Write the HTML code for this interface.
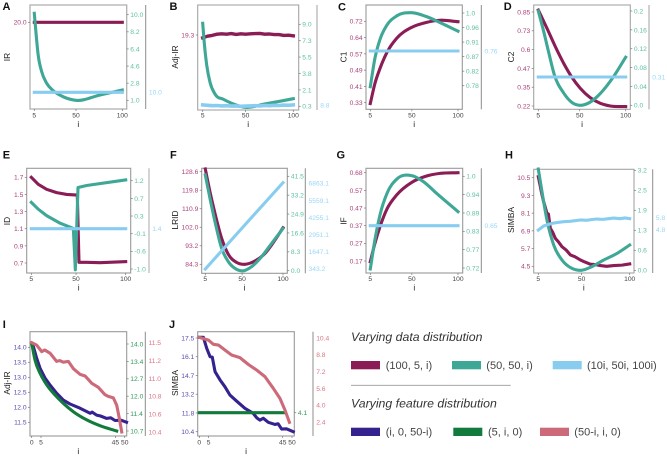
<!DOCTYPE html>
<html lang="en">
<head>
<meta charset="utf-8">
<title>Metric panels by i</title>
<style>
html,body{margin:0;padding:0;background:#fff;}
svg{display:block;font-family:"Liberation Sans",sans-serif;}
</style>
</head>
<body>
<svg id="chart" width="667" height="457" viewBox="0 0 667 457" xmlns="http://www.w3.org/2000/svg">
  <g>
    <text x="351" y="341" font-size="12.3" font-style="italic" fill="#333">Varying data distribution</text>
    <rect x="351" y="361" width="29" height="8.3" fill="#8a1c56"/>
    <text x="385.7" y="369" font-size="11" fill="#444">(100, 5, i)</text>
    <rect x="452" y="361" width="29" height="8.3" fill="#3fa796"/>
    <text x="486.3" y="369" font-size="11" fill="#444">(50, 50, i)</text>
    <rect x="552.7" y="361" width="29" height="8.3" fill="#88cdf0"/>
    <text x="587" y="369" font-size="11" fill="#444">(10i, 50i, 100i)</text>
    <line x1="351" y1="385.3" x2="510.7" y2="385.3" stroke="#999" stroke-width="0.8"/>
    <text x="351" y="407.7" font-size="12.3" font-style="italic" fill="#333">Varying feature distribution</text>
    <rect x="351" y="427.7" width="29" height="8.3" fill="#35228f"/>
    <text x="385.7" y="435.5" font-size="11" fill="#444">(i, 0, 50-i)</text>
    <rect x="453.3" y="427.7" width="29" height="8.3" fill="#127a3b"/>
    <text x="488" y="435.5" font-size="11" fill="#444">(5, i, 0)</text>
    <rect x="540" y="427.7" width="29" height="8.3" fill="#cd6a7a"/>
    <text x="574.3" y="435.5" font-size="11" fill="#444">(50-i, i, 0)</text>
  </g>
</svg>
<script>
// ---------- tick labels ----------
const xTicksWide = [5, 50, 100];
const xTicksNarrow = [0, 5, 45, 50];
const aLeftTicks = ['20.0'];
const aRightTicks = ['10.0', '8.2', '6.4', '4.6', '2.8', '1.0'];
const aThirdTicks = ['10.0'];
const bLeftTicks = ['19.3'];
const bRightTicks = ['9.0', '7.3', '5.5', '3.8', '2.1', '0.3'];
const bThirdTicks = ['8.8'];
const cLeftTicks = ['0.72', '0.64', '0.57', '0.49', '0.41', '0.33'];
const cRightTicks = ['1.0', '0.96', '0.91', '0.87', '0.82', '0.78'];
const cThirdTicks = ['0.76'];
const dLeftTicks = ['0.85', '0.73', '0.6', '0.47', '0.35', '0.22'];
const dRightTicks = ['0.2', '0.16', '0.12', '0.08', '0.04', '0.0'];
const dThirdTicks = ['0.31'];
const eLeftTicks = ['1.7', '1.5', '1.3', '1.1', '0.9', '0.7'];
const eRightTicks = ['1.2', '0.7', '0.3', '-0.1', '-0.6', '-1.0'];
const eThirdTicks = ['1.4'];
const fLeftTicks = ['128.6', '119.8', '110.9', '102.0', '93.2', '84.3'];
const fRightTicks = ['41.5', '33.2', '24.9', '16.6', '8.3', '0.0'];
const fThirdTicks = ['6863.1', '5559.1', '4255.1', '2951.1', '1647.1', '343.2'];
const gLeftTicks = ['0.68', '0.57', '0.47', '0.37', '0.27', '0.17'];
const gRightTicks = ['1.0', '0.94', '0.89', '0.83', '0.77', '0.72'];
const gThirdTicks = ['0.65'];
const hLeftTicks = ['10.5', '9.3', '8.1', '6.9', '5.7', '4.5'];
const hRightTicks = ['3.2', '2.5', '1.9', '1.3', '0.6', '0.0'];
const hThirdTicks = ['5.8', '4.8'];
const iLeftTicks = ['14.0', '13.5', '13.0', '12.5', '12.0', '11.5'];
const iRightTicks = ['14.0', '13.4', '12.7', '12.0', '11.4', '10.7'];
const iThirdTicks = ['11.5', '11.2', '11.0', '10.8', '10.6', '10.4'];
const jLeftTicks = ['17.5', '16.1', '14.7', '13.2', '11.8', '10.4'];
const jRightTicks = ['4.1'];
const jThirdTicks = ['10.4', '8.8', '7.2', '5.6', '4.0', '2.4'];

// ---------- series values ----------
const flatI = [5, 100];
const aMaroonV = [20, 20];
const aTealI = [5, 7, 9, 13, 18, 25, 36, 50, 76, 100];
const aTealV = [10.15, 7.9, 5.9, 4.0, 2.85, 2.05, 1.38, 1.0, 1.56, 2.08];
const aSkyV = [10, 10];

const bEvery5I = [5, 10, 15, 20, 25, 30, 35, 40, 45, 50, 55, 60, 65, 70, 75, 80, 85, 90, 95, 100];
const bMaroonV = [19.23, 19.27, 19.29, 19.32, 19.33, 19.32, 19.335, 19.315, 19.33, 19.32, 19.33, 19.335, 19.34, 19.32, 19.325, 19.31, 19.31, 19.29, 19.295, 19.28];
const bTealI = [5, 6.7, 9.2, 12.7, 17.9, 26.7, 35.4, 49.7, 70.3, 87.8, 100];
const bTealV = [9.11, 6.98, 4.68, 2.84, 1.6, 1.04, 0.62, 0.19, 0.55, 0.87, 1.11];
const bSkyV = [8.81, 8.8, 8.79, 8.795, 8.785, 8.79, 8.78, 8.785, 8.775, 8.78, 8.785, 8.79, 8.785, 8.795, 8.79, 8.8, 8.795, 8.805, 8.8, 8.81];

const cMaroonI = [5, 10, 15.5, 23.4, 33.5, 49.8, 66, 80.5, 100];
const cMaroonV = [0.326, 0.422, 0.494, 0.574, 0.638, 0.691, 0.715, 0.725, 0.718];
const cTealI = [5, 10, 15.5, 22.7, 33.5, 49.8, 66, 80.5, 100];
const cTealV = [0.777, 0.863, 0.92, 0.962, 0.991, 1.001, 0.989, 0.971, 0.945];
const cSkyV = [0.76, 0.76];

const dMaroonI = [5, 14.4, 23.5, 32.6, 41.6, 50.7, 61.6, 72.4, 83.3, 100];
const dMaroonV = [0.863, 0.741, 0.618, 0.506, 0.412, 0.338, 0.275, 0.238, 0.22, 0.216];
const dTealI = [5, 10.8, 16.2, 22.4, 32.6, 41.6, 50, 59.8, 68.8, 85.1, 100];
const dTealV = [0.2, 0.157, 0.113, 0.065, 0.026, 0.006, 0, 0.005, 0.018, 0.056, 0.102];
const dSkyV = [0.31, 0.31];

const eMaroonI = [5, 12, 20.4, 30.5, 40.6, 49, 51.3, 53, 60.7, 74, 100];
const eMaroonV = [1.7, 1.618, 1.56, 1.521, 1.5, 1.494, 1.494, 0.708, 0.708, 0.704, 0.716];
const eTealI = [5, 12, 20.4, 34, 47.3, 49.3, 52, 60.7, 100];
const eTealV = [0.66, 0.49, 0.33, 0.14, 0.01, -1.02, 1.03, 1.08, 1.22];
const eSkyV = [1.4, 1.4];

const fMaroonI = [5, 10.7, 16.8, 25, 33.1, 43.3, 53.5, 65.7, 78, 90.2, 100];
const fMaroonV = [129.9, 119, 108.7, 96.7, 89.1, 85.2, 84.3, 85.9, 89.5, 95.9, 101.8];
const fTealI = [5, 10.7, 16.8, 25, 33.1, 43.3, 50.3, 61.7, 73.9, 86.1, 100];
const fTealV = [42.1, 31.8, 21.6, 9.8, 4, 0.6, -0.1, 1.8, 6.2, 12, 18.6];
const fSkyI = [5, 50, 100];
const fSkyV = [318, 3450, 6914];

const gMaroonI = [5, 10, 15.5, 23.4, 33.5, 49.8, 66, 80.5, 100];
const gMaroonV = [0.166, 0.272, 0.368, 0.474, 0.551, 0.624, 0.661, 0.676, 0.68];
const gTealI = [5, 10, 15.5, 23.4, 33.5, 49.8, 62.4, 76.8, 100];
const gTealV = [0.717, 0.806, 0.882, 0.95, 0.991, 1.002, 0.984, 0.948, 0.892];
const gSkyV = [0.65, 0.65];

const hMaroonI = [5, 6.5, 7.8, 9, 10.5, 12, 14, 15.5, 17.5, 20, 22.7, 26, 29.6, 34, 38.3, 43, 48.7, 53, 59, 64, 69.5, 76, 83.4, 92, 100];
const hMaroonV = [10.57, 10.1, 9.67, 9.3, 8.88, 8.55, 8.09, 8.05, 7.07, 6.8, 6.39, 6.15, 5.83, 5.6, 5.27, 5.15, 4.93, 4.8, 4.64, 4.62, 4.55, 4.5, 4.55, 4.58, 4.66];
const hTealI = [5, 8.8, 14, 21, 29.6, 40, 49.7, 60.8, 73, 86.8, 100];
const hTealV = [3.24, 2.52, 1.61, 0.81, 0.33, 0.06, 0, 0.12, 0.33, 0.54, 0.81];
const hSkyI = [5, 10.5, 19.2, 25, 31.3, 38, 48.7, 55, 60, 66, 72, 78, 83.4, 90, 95, 100];
const hSkyV = [4.77, 5.11, 5.33, 5.4, 5.47, 5.5, 5.61, 5.58, 5.64, 5.69, 5.66, 5.72, 5.77, 5.72, 5.78, 5.72];

const iNavyI = [0, 0.9, 2.7, 4.5, 7.2, 9.9, 13.4, 17, 20.6, 26, 31.4, 32.5, 34.9, 37, 40.3, 42.5, 44.8, 48, 51];
const iNavyV = [14.13, 14.02, 13.63, 13.3, 12.97, 12.74, 12.47, 12.24, 12.11, 11.97, 11.8, 11.84, 11.74, 11.71, 11.63, 11.65, 11.56, 11.57, 11.5];
const iGreenI = [0, 1.8, 4.5, 8.1, 12.5, 17, 22.4, 29.6, 36.7, 45.7];
const iGreenV = [14.03, 13.39, 12.89, 12.45, 12.07, 11.75, 11.43, 11.12, 10.9, 10.7];
const iRoseI = [0, 2.7, 5.4, 7, 9.9, 13.4, 15, 17, 19.7, 22.4, 26, 28.7, 32.3, 35.8, 39.4, 41, 43.9, 45.7, 47.1, 48.4];
const iRoseV = [11.5, 11.47, 11.39, 11.41, 11.37, 11.27, 11.28, 11.26, 11.27, 11.18, 11.11, 11.09, 11, 10.95, 10.86, 10.84, 10.82, 10.73, 10.57, 10.4];

const jNavyI = [0, 2.2, 4, 5.8, 7, 8.5, 11.2, 13.8, 16.5, 20.1, 24.6, 29.1, 31, 32.7, 34.5, 37.2, 40.8, 42.5, 44.4, 47, 50.7];
const jNavyV = [17.55, 17.55, 16.72, 16.08, 16.05, 14.95, 14.32, 13.81, 13.18, 12.72, 12.17, 11.79, 11.45, 11.28, 11.42, 11.11, 10.95, 11, 10.6, 10.62, 10.4];
const jGreenI = [0, 46];
const jGreenV = [4.1, 4.1];
const jRoseI = [0, 4.9, 7.6, 10.3, 13.8, 17.4, 21.9, 26.4, 30.9, 35.4, 39.9, 43.5, 46.2, 48.6];
const jRoseV = [10.46, 10.2, 9.8, 9.73, 9.26, 8.78, 8.53, 7.89, 7.35, 6.72, 5.61, 4.65, 3.54, 2.37];

// ---------- palette ----------
const MAROON = '#8a1c56', TEAL = '#3fa796', SKY = '#88cdf0', NAVY = '#35228f', GREEN = '#127a3b', ROSE = '#cd6a7a';
const MAROON_T = '#ab4279', TEAL_T = '#5dbfa5', SKY_T = '#9ad6f5', NAVY_T = '#5a4cad', GREEN_T = '#2f9a58', ROSE_T = '#da7484';

// ---------- panel layout ----------
const panels = [
  { key:'a', letter:'A', lx:2.5, ly:10, title:'IR', tx:10, ty:57, frame:[30,5,126.7,109], frameColor:'#b0b0b0', frameW:1.3,
    xt:xTicksWide, xa:[34.3,122.3], xl:117.5, xt2:127,
    left:{labels:aLeftTicks, y0:22.3, y1:22.3, unit:10, color:MAROON_T},
    right:{labels:aRightTicks, y0:14.7, y1:100.3, color:TEAL_T},
    third:{labels:aThirdTicks, x:145.7, y0:92.3, y1:92.3, unit:10, color:SKY_T},
    series:[{n:'maroon',xs:flatI,ys:aMaroonV,ax:'left',c:MAROON,s:1},{n:'teal',xs:aTealI,ys:aTealV,ax:'right',c:TEAL,s:1},{n:'sky',xs:flatI,ys:aSkyV,ax:'third',c:SKY,s:1}] },
  { key:'b', letter:'B', lx:169.5, ly:10, title:'Adj-IR', tx:178, ty:57, frame:[197.7,5,298.7,110], frameColor:'#a5a5a5', frameW:1.1,
    xt:xTicksWide, xa:[202.7,293.3], xl:117.5, xt2:127,
    left:{labels:bLeftTicks, y0:35, y1:35, unit:40, color:MAROON_T},
    right:{labels:bRightTicks, y0:24.3, y1:106.3, color:TEAL_T},
    third:{labels:bThirdTicks, x:317, y0:105.3, y1:105.3, unit:40, color:SKY_T, axisColor:'#c4c4c4', axisW:1.6},
    series:[{n:'maroon',xs:bEvery5I,ys:bMaroonV,ax:'left',c:MAROON,w:3.4},{n:'teal',xs:bTealI,ys:bTealV,ax:'right',c:TEAL,s:1},{n:'sky',xs:bEvery5I,ys:bSkyV,ax:'third',c:SKY,w:3.6}] },
  { key:'c', letter:'C', lx:338, ly:10.5, title:'C1', tx:346.5, ty:57, frame:[366,5,462.3,109.3], frameColor:'#999', frameW:1.1,
    xt:xTicksWide, xa:[370.3,458], xl:117.5, xt2:127,
    left:{labels:cLeftTicks, y0:21.3, y1:102.7, color:MAROON_T},
    right:{labels:cRightTicks, y0:13, y1:85.7, color:TEAL_T},
    third:{labels:cThirdTicks, x:481.3, y0:51, y1:51, unit:100, color:SKY_T},
    series:[{n:'maroon',xs:cMaroonI,ys:cMaroonV,ax:'left',c:MAROON,s:1},{n:'teal',xs:cTealI,ys:cTealV,ax:'right',c:TEAL,s:1},{n:'sky',xs:flatI,ys:cSkyV,ax:'third',c:SKY,s:1}] },
  { key:'d', letter:'D', lx:503.7, ly:10, title:'C2', tx:514, ty:57, frame:[533.7,5,630.3,109.3], frameColor:'#a5a5a5', frameW:1.1,
    xt:xTicksWide, xa:[538.3,625.7], xl:117.5, xt2:127,
    left:{labels:dLeftTicks, y0:12, y1:106, color:MAROON_T},
    right:{labels:dRightTicks, y0:11, y1:105.3, color:TEAL_T},
    third:{labels:dThirdTicks, x:649, y0:77, y1:77, unit:100, color:SKY_T, axisColor:'#c4c4c4', axisW:1.6},
    series:[{n:'maroon',xs:dMaroonI,ys:dMaroonV,ax:'left',c:MAROON,s:1},{n:'teal',xs:dTealI,ys:dTealV,ax:'right',c:TEAL,s:1},{n:'sky',xs:flatI,ys:dSkyV,ax:'third',c:SKY,s:1}] },
  { key:'e', letter:'E', lx:2.7, ly:158.3, title:'ID', tx:10, ty:221, frame:[26.7,168.3,130.7,273], frameColor:'#999', frameW:1.1,
    xt:xTicksWide, xa:[31.3,125.7], xl:281, xt2:290.5,
    left:{labels:eLeftTicks, y0:177.3, y1:263, color:MAROON_T},
    right:{labels:eRightTicks, y0:180.7, y1:269, color:TEAL_T},
    third:{labels:eThirdTicks, x:149, y0:228.7, y1:228.7, unit:30, color:SKY_T, axisColor:'#a8a8a8'},
    series:[{n:'maroon',xs:eMaroonI,ys:eMaroonV,ax:'left',c:MAROON},{n:'teal',xs:eTealI,ys:eTealV,ax:'right',c:TEAL},{n:'sky',xs:flatI,ys:eSkyV,ax:'third',c:SKY,s:1}] },
  { key:'f', letter:'F', lx:170, ly:158.3, title:'LRID', tx:178, ty:220, frame:[201.7,168.3,287.3,273.3], frameColor:'#999', frameW:1.1,
    xt:xTicksWide, xa:[205.3,283], xl:281, xt2:290.5,
    left:{labels:fLeftTicks, y0:171.7, y1:264.3, color:MAROON_T},
    right:{labels:fRightTicks, y0:176.3, y1:270.7, color:TEAL_T},
    third:{labels:fThirdTicks, x:305.3, y0:183.3, y1:268.7, color:SKY_T},
    series:[{n:'maroon',xs:fMaroonI,ys:fMaroonV,ax:'left',c:MAROON,s:1},{n:'teal',xs:fTealI,ys:fTealV,ax:'right',c:TEAL,s:1},{n:'sky',xs:fSkyI,ys:fSkyV,ax:'third',c:SKY}] },
  { key:'g', letter:'G', lx:336.5, ly:158.5, title:'IF', tx:346.5, ty:221, frame:[366,168.3,462.7,273], frameColor:'#999', frameW:1.1,
    xt:xTicksWide, xa:[370.3,458], xl:281, xt2:290.5,
    left:{labels:gLeftTicks, y0:172.7, y1:261, color:MAROON_T},
    right:{labels:gRightTicks, y0:176.3, y1:268, color:TEAL_T},
    third:{labels:gThirdTicks, x:481.3, y0:225.7, y1:225.7, unit:100, color:SKY_T},
    series:[{n:'maroon',xs:gMaroonI,ys:gMaroonV,ax:'left',c:MAROON,s:1},{n:'teal',xs:gTealI,ys:gTealV,ax:'right',c:TEAL,s:1},{n:'sky',xs:flatI,ys:gSkyV,ax:'third',c:SKY,s:1}] },
  { key:'h', letter:'H', lx:505, ly:158.3, title:'SIMBA', tx:514, ty:220, frame:[533.7,169.3,634,273], frameColor:'#a5a5a5', frameW:1.1,
    xt:xTicksWide, xa:[538.3,629.7], xl:281, xt2:290.5,
    left:{labels:hLeftTicks, y0:177.7, y1:266.3, color:MAROON_T},
    right:{labels:hRightTicks, y0:170.3, y1:270.3, color:TEAL_T},
    third:{labels:hThirdTicks, x:652.7, y0:217.7, y1:229.7, color:SKY_T},
    series:[{n:'maroon',xs:hMaroonI,ys:hMaroonV,ax:'left',c:MAROON},{n:'teal',xs:hTealI,ys:hTealV,ax:'right',c:TEAL,s:1},{n:'sky',xs:hSkyI,ys:hSkyV,ax:'third',c:SKY}] },
  { key:'i', letter:'I', lx:2.7, ly:328, title:'Adj-IR', tx:10, ty:383, frame:[30,331.7,126.7,436], frameColor:'#999', frameW:1.1,
    xt:xTicksNarrow, xa:[31.7,124.7], xl:444.3, xt2:454,
    left:{labels:iLeftTicks, y0:347.3, y1:422.3, color:NAVY_T},
    right:{labels:iRightTicks, y0:344, y1:431, color:GREEN_T},
    third:{labels:iThirdTicks, x:145.3, y0:342.7, y1:432, color:ROSE_T},
    series:[{n:'navy',xs:iNavyI,ys:iNavyV,ax:'left',c:NAVY},{n:'green',xs:iGreenI,ys:iGreenV,ax:'right',c:GREEN,s:1},{n:'rose',xs:iRoseI,ys:iRoseV,ax:'third',c:ROSE}] },
  { key:'j', letter:'J', lx:169, ly:328, title:'SIMBA', tx:178, ty:383, frame:[197.7,331.7,294.3,436], frameColor:'#999', frameW:1.1,
    xt:xTicksNarrow, xa:[199.3,292], xl:444.3, xt2:454,
    left:{labels:jLeftTicks, y0:338, y1:431.7, color:NAVY_T},
    right:{labels:jRightTicks, y0:412.7, y1:412.7, unit:30, color:GREEN_T},
    third:{labels:jThirdTicks, x:313, y0:338, y1:422, color:ROSE_T},
    series:[{n:'navy',xs:jNavyI,ys:jNavyV,ax:'left',c:NAVY},{n:'green',xs:jGreenI,ys:jGreenV,ax:'right',c:GREEN,s:1},{n:'rose',xs:jRoseI,ys:jRoseV,ax:'third',c:ROSE}] }
];

// ---------- axis functions ----------
const NS = 'http://www.w3.org/2000/svg';
const root = document.getElementById('chart');
const TICK_FONT = 6.7;

function make(tag, parent, attrs, text) {
  const node = document.createElementNS(NS, tag);
  for (const k in attrs) node.setAttribute(k, attrs[k]);
  if (text !== undefined) node.textContent = text;
  parent.appendChild(node);
  return node;
}

function yScale(axis) {
  const first = parseFloat(axis.labels[0]);
  if (axis.labels.length === 1) return v => axis.y0 - (v - first) * axis.unit;
  const last = parseFloat(axis.labels[axis.labels.length - 1]);
  return v => axis.y0 + (v - first) / (last - first) * (axis.y1 - axis.y0);
}

function tickY(axis, k) {
  return axis.labels.length === 1 ? axis.y0 : axis.y0 + k * (axis.y1 - axis.y0) / (axis.labels.length - 1);
}

function xScale(p) {
  const a = p.xt[0], b = p.xt[p.xt.length - 1];
  return v => p.xa[0] + (v - a) / (b - a) * (p.xa[1] - p.xa[0]);
}

// Cubic Hermite through the points with x as the parameter (three-point tangents).
function linePath(pts, smooth) {
  let d = 'M' + pts[0][0].toFixed(2) + ' ' + pts[0][1].toFixed(2);
  const n = pts.length;
  if (!smooth || n < 3) {
    for (let i = 1; i < n; i++) d += 'L' + pts[i][0].toFixed(2) + ' ' + pts[i][1].toFixed(2);
    return d;
  }
  const h = [], sl = [], m = [];
  for (let i = 0; i < n - 1; i++) {
    h[i] = pts[i + 1][0] - pts[i][0];
    sl[i] = (pts[i + 1][1] - pts[i][1]) / h[i];
  }
  m[0] = sl[0];
  m[n - 1] = sl[n - 2];
  for (let i = 1; i < n - 1; i++) m[i] = (sl[i - 1] * h[i] + sl[i] * h[i - 1]) / (h[i - 1] + h[i]);
  for (let i = 0; i < n - 1; i++) {
    const c1x = pts[i][0] + h[i] / 3, c1y = pts[i][1] + m[i] * h[i] / 3;
    const c2x = pts[i + 1][0] - h[i] / 3, c2y = pts[i + 1][1] - m[i + 1] * h[i] / 3;
    d += 'C' + c1x.toFixed(2) + ' ' + c1y.toFixed(2) + ' ' + c2x.toFixed(2) + ' ' + c2y.toFixed(2) + ' ' + pts[i + 1][0].toFixed(2) + ' ' + pts[i + 1][1].toFixed(2);
  }
  return d;
}

panels.forEach(p => {
  const g = make('g', root, {});
  
  

  const [fx0, fy0, fx1, fy1] = p.frame;

  const letter = make('text', g, { x: p.lx, y: p.ly, 'font-size': 11, 'font-weight': 'bold', fill: '#111' }, p.letter);
  
  

  const title = make('text', g, { x: p.tx, y: p.ty, 'font-size': 8.4, fill: '#222', 'text-anchor': 'middle', transform: 'rotate(-90 ' + p.tx + ' ' + p.ty + ')' }, p.title);
  
  

  const frame = make('rect', g, { x: fx0, y: fy0, width: fx1 - fx0, height: fy1 - fy0, fill: 'none', stroke: p.frameColor, 'stroke-width': p.frameW });
  
  

  // x axis
  const xs = xScale(p);
  p.xt.forEach(v => {
    const px = xs(v);
    const tick = make('line', g, { x1: px, x2: px, y1: fy1, y2: fy1 + 2, stroke: '#777', 'stroke-width': 0.7 });
    
    
    const label = make('text', g, { x: px, y: p.xl, 'font-size': TICK_FONT, fill: '#444', 'text-anchor': 'middle' }, String(v));
    
    
  });
  const xTitle = make('text', g, { x: (fx0 + fx1) / 2, y: p.xt2, 'font-size': 8.4, fill: '#222', 'text-anchor': 'middle' }, 'i');
  
  

  // left axis
  p.left.labels.forEach((lab, k) => {
    const y = tickY(p.left, k);
    const tick = make('line', g, { x1: fx0 - 2, x2: fx0, y1: y, y2: y, stroke: '#777', 'stroke-width': 0.7 });
    
    
    const label = make('text', g, { x: fx0 - 3.4, y: y + 2.4, 'font-size': TICK_FONT, fill: p.left.color, 'text-anchor': 'end' }, lab);
    
    
  });

  // right axis
  p.right.labels.forEach((lab, k) => {
    const y = tickY(p.right, k);
    const tick = make('line', g, { x1: fx1, x2: fx1 + 2, y1: y, y2: y, stroke: '#777', 'stroke-width': 0.7 });
    
    
    const label = make('text', g, { x: fx1 + 3.6, y: y + 2.4, 'font-size': TICK_FONT, fill: p.right.color }, lab);
    
    
  });

  // third axis
  const th = p.third;
  const thLine = make('line', g, { x1: th.x, x2: th.x, y1: fy0, y2: fy1, stroke: th.axisColor || '#8c8c8c', 'stroke-width': th.axisW || 1 });
  
  
  th.labels.forEach((lab, k) => {
    const y = tickY(th, k);
    const label = make('text', g, { x: th.x + 3.2, y: y + 2.4, 'font-size': TICK_FONT, fill: th.color }, lab);
    
    
  });

  // series
  const scales = { left: yScale(p.left), right: yScale(p.right), third: yScale(p.third) };
  p.series.forEach(s => {
    const pts = s.xs.map((v, k) => [xs(v), scales[s.ax](s.ys[k])]);
    const path = make('path', g, { d: linePath(pts, !!s.s), fill: 'none', stroke: s.c, 'stroke-width': s.w || 3.1, 'stroke-linecap': 'square', 'stroke-linejoin': 'round' });
    
    
  });
});
</script>
</body>
</html>
